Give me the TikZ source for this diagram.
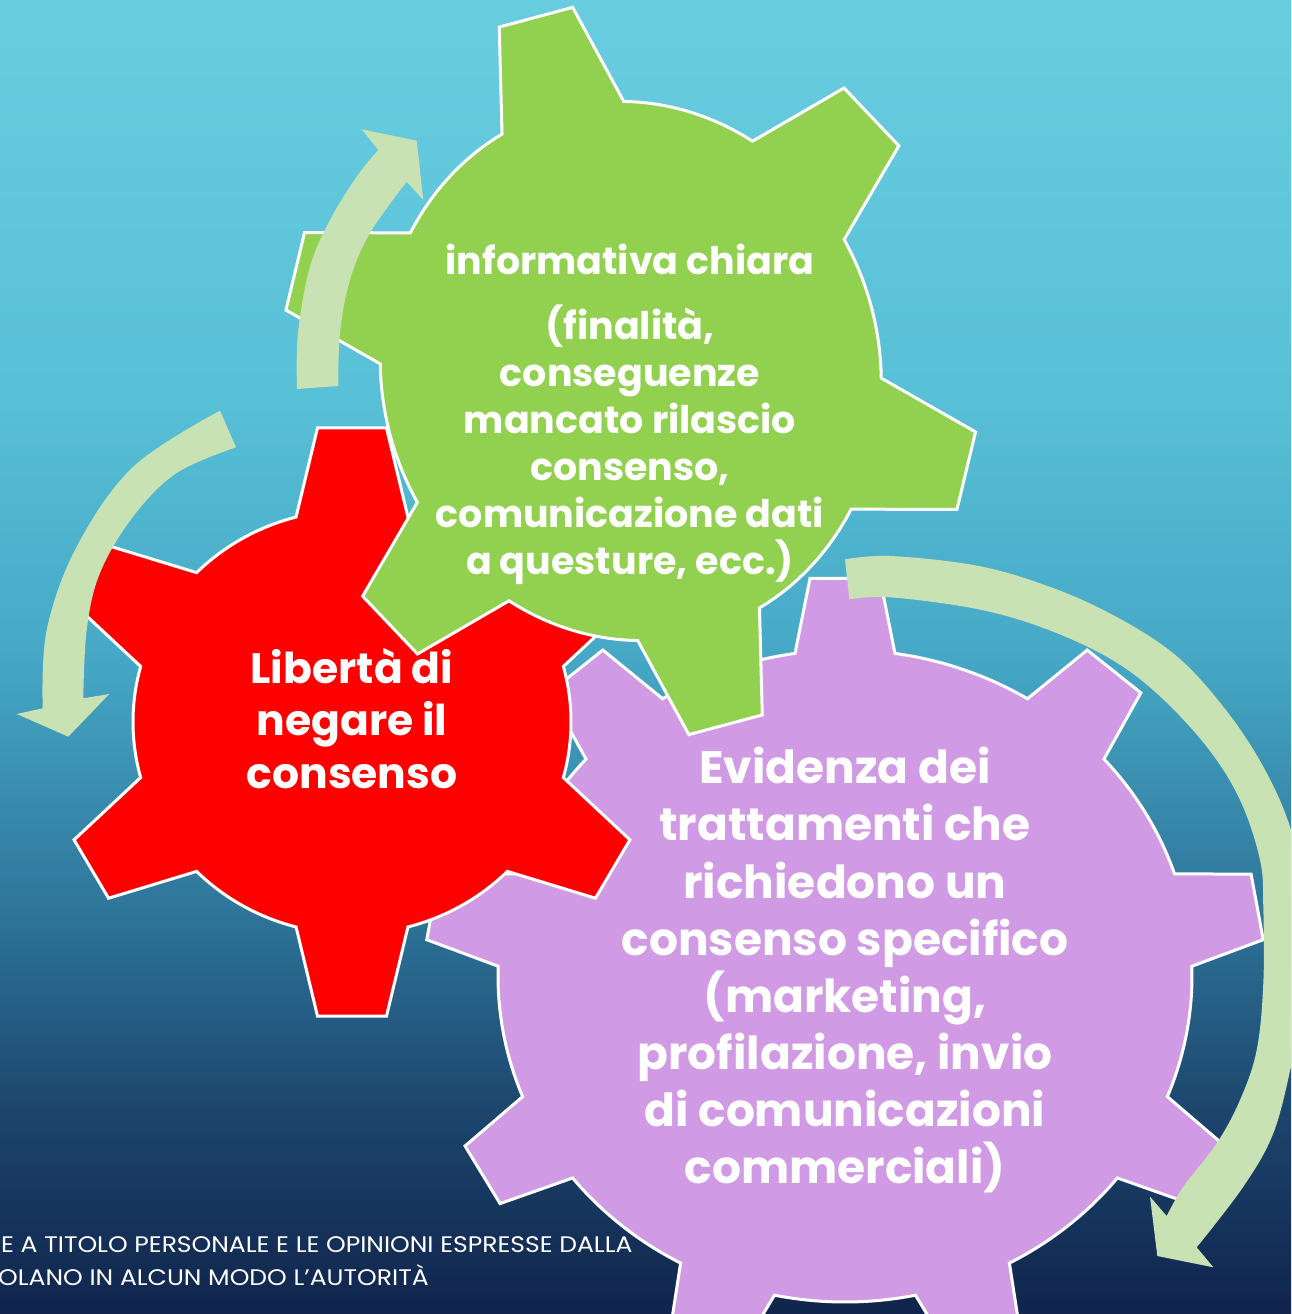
\documentclass[tikz,border=0pt]{standalone}
\usepackage{fontspec}
\setmainfont{Poppins}
\definecolor{gGreen}{RGB}{146,208,80}
\definecolor{gRed}{RGB}{255,0,0}
\definecolor{gPurple}{RGB}{208,155,228}
\definecolor{arrowGreen}{RGB}{201,226,179}
\definecolor{bgA}{RGB}{16,36,76}
\definecolor{bgB}{RGB}{28,68,108}
\definecolor{bgC}{RGB}{45,115,152}
\definecolor{bgD}{RGB}{70,168,198}
\definecolor{bgE}{RGB}{88,192,215}
\definecolor{bgF}{RGB}{105,205,224}
\pgfdeclareverticalshading{bgshade}{100bp}{color(0bp)=(bgA); color(25bp)=(bgA); color(32.5bp)=(bgB); color(40bp)=(bgC); color(50bp)=(bgD); color(60bp)=(bgE); color(75bp)=(bgF); color(100bp)=(bgF)}
\begin{document}
\begin{tikzpicture}[x=1pt,y=-1pt,
  gearline/.style={draw=white, line width=3pt, line join=miter},
  arrowfill/.style={fill=arrowGreen},
  geartext/.style={text=white, align=center, inner sep=0pt, anchor=base},
  foottext/.style={text=white, anchor=base west, inner sep=0pt, font=\fontsize{22.5}{22.5}\selectfont}]
\useasboundingbox (0,0) rectangle (1291,1314);
\clip (0,0) rectangle (1291,1314);
\shade[shading=bgshade] (0,0) rectangle (1291,1314);

% footer
\node[foottext] (foot1) at (1,1252) {\scalebox{1.113}[1]{E A TITOLO PERSONALE E LE OPINIONI ESPRESSE DALLA}};
\node[foottext] (foot2) at (-2,1285) {\scalebox{1.113}[1]{OLANO IN ALCUN MODO L’AUTORITÀ}};

% purple gear (9 teeth)
\begin{scope}[shift={(845,976)}, yscale=-1]
\path[fill=gPurple, gearline] ({347*cos(81.72)},{326*sin(81.72)})
  \foreach \t [evaluate=\t as \sa using \t+8.28, evaluate=\t as \ea using \t+31.72] in {90,130,170,210,250,290,330,370,410} {
    -- ({420*cos(\t-4.78)},{399*sin(\t-4.78)})
    -- ({420*cos(\t+4.78)},{399*sin(\t+4.78)})
    -- ({347*cos(\sa)},{326*sin(\sa)})
    arc[start angle=\sa, end angle=\ea, x radius=347, y radius=326]
  } -- cycle;
\end{scope}

% red gear (6 teeth)
\begin{scope}[shift={(352,722)}, yscale=-1]
\path[fill=gRed, gearline] ({219*cos(75.2)},{212*sin(75.2)})
  \foreach \t [evaluate=\t as \sa using \t+14.8, evaluate=\t as \ea using \t+45.2] in {90,150,210,270,330,390} {
    -- ({303*cos(\t-6.54)},{296*sin(\t-6.54)})
    -- ({303*cos(\t+6.54)},{296*sin(\t+6.54)})
    -- ({219*cos(\sa)},{212*sin(\sa)})
    arc[start angle=\sa, end angle=\ea, x radius=219, y radius=212]
  } -- cycle;
\end{scope}

% green gear (6 teeth, tilted)
\begin{scope}[shift={(630.75,371)}, yscale=-1, rotate=-15]
\path[fill=gGreen, gearline] ({249*cos(75.34)},{271*sin(75.34)})
  \foreach \t [evaluate=\t as \sa using \t+14.66, evaluate=\t as \ea using \t+45.34] in {90,150,210,270,330,390} {
    -- ({346.5*cos(\t-6.3)},{368.5*sin(\t-6.3)})
    -- ({346.5*cos(\t+6.3)},{368.5*sin(\t+6.3)})
    -- ({249*cos(\sa)},{271*sin(\sa)})
    arc[start angle=\sa, end angle=\ea, x radius=249, y radius=271]
  } -- cycle;
\end{scope}

% arrows
\fill[arrowfill] plot[smooth, tension=0.6] coordinates {(297,389) (298,333) (310,267) (330,220) (356.7,176.7) (378.3,150)}
  -- (361.7,129.3) -- (416.7,140.7) -- (423.3,200)
  -- plot[smooth, tension=0.6] coordinates {(406.7,181.7) (370,233) (350,280) (340,333) (338.3,386)} -- cycle;

\fill[arrowfill] plot[smooth, tension=0.6] coordinates {(220,410.7) (133.3,466.7) (76.7,546.7) (46.7,630) (42.7,708.3)}
  -- (16.7,714) -- (68.3,736.7) -- (109.3,694)
  -- plot[smooth, tension=0.6] coordinates {(83.3,698.3) (86.7,630) (100,573) (133,516.7) (176.7,473) (236,447.3)} -- cycle;

\fill[arrowfill] plot[smooth, tension=0.6] coordinates {(845,559.3) (890,556) (973.3,565) (1040,583.3) (1106.7,611.7) (1173.3,653.3) (1223.3,706.7) (1263.3,766.7) (1291,830) (1304,900) (1306,960) (1300,1020) (1291,1066.7) (1273.3,1133.3) (1243.3,1186.7) (1196.7,1247.3)}
  -- (1213.3,1267.3) -- (1157.3,1256) -- (1150,1196.7)
  -- plot[smooth, tension=0.6] coordinates {(1166.7,1216) (1183.3,1186.7) (1216.7,1143.3) (1240,1100) (1256.7,1050) (1263.3,983.3) (1263.3,906.7) (1260,860) (1240,800) (1206.7,746.7) (1156.7,693.3) (1106.7,656.7) (1040,626.7) (973.3,608.3) (890,597.3) (849.3,599.3)} -- cycle;

% texts
\node[geartext, font=\bfseries\fontsize{38}{47}\selectfont] (gtitle) at (630,274.5) {informativa chiara};
\node[geartext, font=\bfseries\fontsize{38}{47}\selectfont] (gbody) at (630,574) {(finalità,\\conseguenze\\mancato rilascio\\consenso,\\comunicazione dati\\a questure, ecc.)};
\node[geartext, font=\bfseries\fontsize{42.5}{52.5}\selectfont] (rtext) at (352,788) {Libertà di\\negare il\\consenso};
\node[geartext, font=\bfseries\fontsize{45.5}{57.1}\selectfont] (ptext) at (845,1183.5) {Evidenza dei\\trattamenti che\\richiedono un\\consenso specifico\\(marketing,\\profilazione, invio\\di comunicazioni\\commerciali)};
\end{tikzpicture}
\end{document}
